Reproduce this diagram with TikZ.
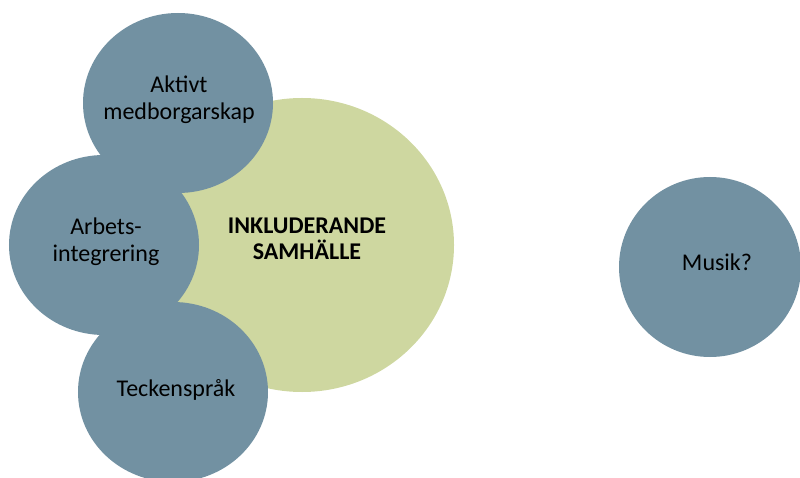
\documentclass[tikz,border=0pt]{standalone}
\usepackage{fontspec}
\setmainfont{Carlito}
\usepackage{tikz}
\usetikzlibrary{shapes.geometric, positioning}
\definecolor{bubbleblue}{HTML}{7291A2}
\definecolor{bubblegreen}{HTML}{CED7A0}
\tikzstyle{bubble} = [ellipse, inner sep=0pt, minimum width=190bp, minimum height=180bp, fill=bubbleblue]
\tikzstyle{core} = [ellipse, inner sep=0pt, minimum width=304bp, minimum height=294bp, fill=bubblegreen]
\tikzstyle{lbl} = [font=\fontsize{24bp}{27bp}\selectfont, align=center, inner sep=0pt]

\begin{document}
\begin{tikzpicture}[x=1bp, y=-1bp]
\useasboundingbox (0,0) rectangle (800,478);
  \node (samhalle) [core] at (302,245) {};
  \node (aktivt) [bubble] at (178,103) {};
  \node (arbets) [bubble] at (104,245) {};
  \node (teckensprak) [bubble] at (173,392) {};
  \node (musik) [bubble, minimum width=182bp] at (710,267) {};
  \node (samhalleText) [lbl, font=\fontsize{24bp}{26bp}\selectfont\bfseries] at (307,238.5) {INKLUDERANDE\\SAMH\"ALLE};
  \node (aktivtText) [lbl] at (179,99.5) {Aktivt\\medborgarskap};
  \node (arbetsText) [lbl] at (106,241.5) {Arbets-\\integrering};
  \node (teckenspraktText) [lbl] at (176,390) {Teckenspr\aa k};
  \node (musikText) [lbl] at (717,262) {Musik?};
\end{tikzpicture}
\end{document}
